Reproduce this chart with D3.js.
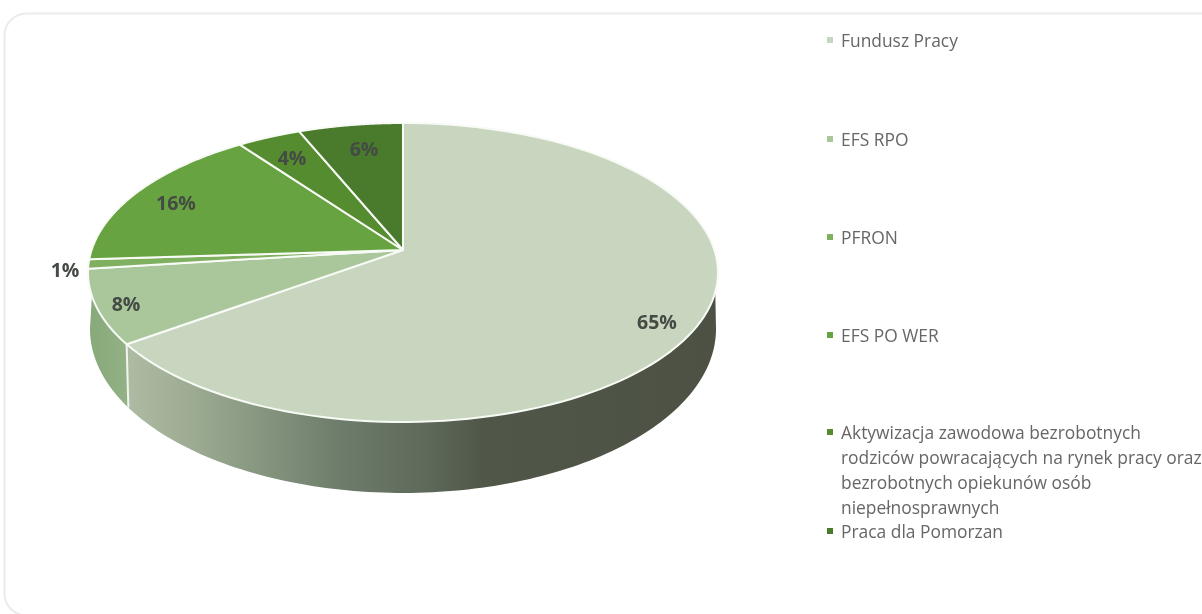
<!DOCTYPE html>
<html><head><meta charset="utf-8">
<script src="https://cdn.jsdelivr.net/npm/d3@7"></script>
<style>html,body{margin:0;padding:0;background:#fff;overflow:hidden}svg{display:block;filter:blur(0.55px)}</style>
</head><body><svg id="c" width="1202" height="614"></svg>
<script>
const categories = ["Fundusz Pracy","EFS RPO","PFRON","EFS PO WER","Aktywizacja zawodowa bezrobotnych rodziców powracających na rynek pracy oraz bezrobotnych opiekunów osób niepełnosprawnych","Praca dla Pomorzan"];
const values = [65,8,1,16,3.8,6.2];
const colors = ["#c9d6bf","#a9c79b","#7fb05f","#68a341","#558c2f","#4a7a2b"];
const legendLines = [["Fundusz Pracy"],["EFS RPO"],["PFRON"],["EFS PO WER"],["Aktywizacja zawodowa bezrobotnych","rodziców powracających na rynek pracy oraz","bezrobotnych opiekunów osób","niepełnosprawnych"],["Praca dla Pomorzan"]];
const legendY = [40,139,237,335,432,531];
const labelPos = [[657,321],[126,303],[65,269],[176,202],[292,157],[364,148]];

const svg = d3.select("#c");
// card
svg.append("rect").attr("x",4.5).attr("y",13.5).attr("width",1230).attr("height",602).attr("rx",22)
  .attr("fill","#fff").attr("stroke","#ebebeb").attr("stroke-width",2);

// perspective projection of a disc
const cx=403, cy=250, k=0.1505, A=311.4, B=146.1;
const top3d = t => { const u=Math.sin(t), v=-Math.cos(t), w=1-k*v; return [cx+A*u/w, cy+B*v/w]; };
const bottom3d = t => { const p=top3d(t); return [cx+(p[0]-cx)*0.9937, cy+(p[1]-cy)*1.097+54.3]; };
const arcPts = (fn,a,b) => d3.range(0,121).map(i=>fn(a+(b-a)*i/120));
const line = d3.line();

const total = d3.sum(values);
const arcs = d3.pie().sort(null).value(d=>d)(values);
const sil = Math.acos(-k);              // widest point of the disc, right
const silL = 2*Math.PI - sil;           // widest point of the disc, left
const rimR = Math.acos(-0.2756);        // where the wall emerges under the rim, right
const rimL = 2*Math.PI - Math.acos(-0.30);

const defs = svg.append("defs");
const g = defs.append("linearGradient").attr("id","wall").attr("gradientUnits","userSpaceOnUse")
  .attr("x1",130).attr("x2",718).attr("y1",0).attr("y2",0);
[[0,"#adbba3"],[0.1,"#9dac93"],[0.2,"#8b9a83"],[0.35,"#6f7d6c"],[0.5,"#5e6a5a"],[0.6,"#505749"],[1,"#4c5144"]]
  .forEach(s=>g.append("stop").attr("offset",s[0]).attr("stop-color",s[1]));
const g2 = defs.append("linearGradient").attr("id","wall2").attr("gradientUnits","userSpaceOnUse")
  .attr("x1",90).attr("x2",130).attr("y1",0).attr("y2",0);
g2.append("stop").attr("offset",0).attr("stop-color","#88a97a");
g2.append("stop").attr("offset",1).attr("stop-color","#93b286");

// walls
const wall = (a,b,c,d,fill)=> svg.append("path")
  .attr("d", line(arcPts(top3d,a,b).concat(arcPts(bottom3d,c,d).reverse()))+"Z")
  .attr("fill",fill);
wall(rimR, arcs[0].endAngle, sil, arcs[0].endAngle, "url(#wall)");
wall(arcs[0].endAngle, rimL, arcs[0].endAngle, silL, "url(#wall2)");
svg.append("path").attr("d",line([top3d(arcs[0].endAngle),bottom3d(arcs[0].endAngle)]))
  .attr("stroke","#f2f4ef").attr("stroke-width",2).attr("fill","none");

// top slices
svg.append("g").selectAll("path").data(arcs).join("path")
  .attr("d",d=>line([[cx,cy]].concat(arcPts(top3d,d.startAngle,d.endAngle)))+"Z")
  .attr("fill",(d,i)=>colors[i]).attr("stroke","#f8faf6").attr("stroke-width",2).attr("stroke-linejoin","round");

// labels
const pct = d3.format(".0%");
svg.append("g").selectAll("text").data(arcs).join("text")
  .attr("x",(d,i)=>labelPos[i][0]).attr("y",(d,i)=>labelPos[i][1])
  .attr("text-anchor","middle").attr("dominant-baseline","central")
  .attr("font-family","'Open Sans'").attr("font-weight",700).attr("font-size",19.5)
  .attr("fill","#444a44").text(d=>pct(d.value/total));

// legend
const lg = svg.append("g").attr("font-family","'Open Sans'").attr("font-size",17.4).attr("fill","#666");
categories.forEach((c,i)=>{
  lg.append("rect").attr("x",827).attr("y",legendY[i]-3).attr("width",6).attr("height",6).attr("fill",colors[i]);
  legendLines[i].forEach((l,j)=>lg.append("text").attr("x",841).attr("y",legendY[i]+j*25).attr("dominant-baseline","central").text(l));
});
</script></body></html>
